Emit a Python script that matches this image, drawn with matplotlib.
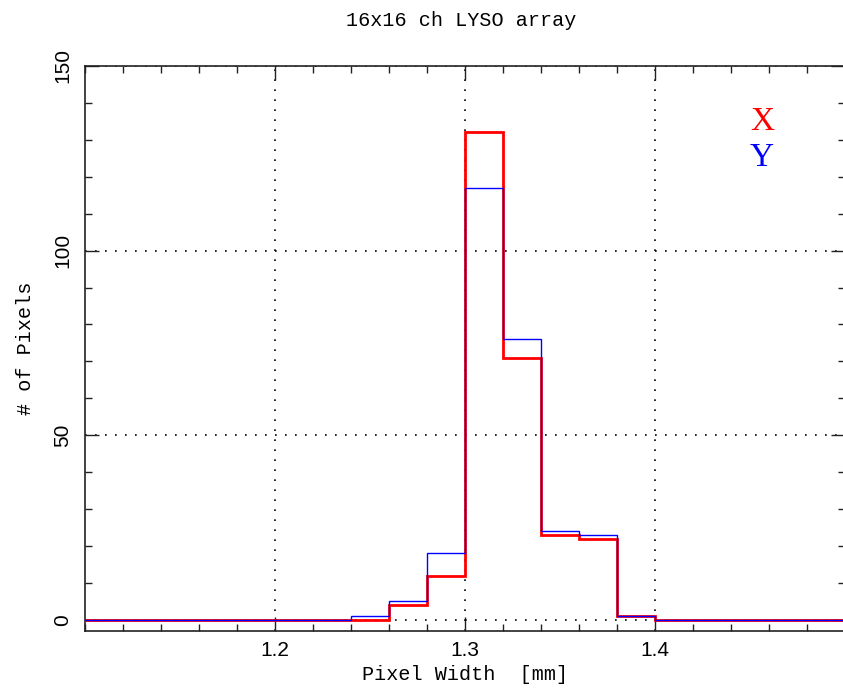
import numpy as np
import matplotlib
matplotlib.use("Agg")
import matplotlib.pyplot as plt
from matplotlib.ticker import MultipleLocator

# Histogram binning (pixel width in mm)
bin_edges = np.round(np.arange(1.10, 1.5001, 0.02), 2)

# Counts per bin for the X and Y pixel widths
counts_x = [0, 0, 0, 0, 0, 0, 0, 0, 4, 12, 132, 71, 23, 22, 1, 0, 0, 0, 0, 0]
counts_y = [0, 0, 0, 0, 0, 0, 0, 1, 5, 18, 117, 76, 24, 23, 1, 0, 0, 0, 0, 0]

x_ticks = [1.2, 1.3, 1.4]
y_ticks = [0, 50, 100, 150]

W, H = 843, 694
fig = plt.figure(figsize=(W / 100, H / 100), dpi=100)
left, right, top, bottom = 85, 845, 66, 631
ax = fig.add_axes([left / W, 1 - bottom / H, (right - left) / W, (bottom - top) / H])

ax.stairs(counts_x, bin_edges, baseline=None, color="#ff0000", lw=2.0, zorder=3)
ax.stairs(counts_y, bin_edges, baseline=None, color="#0000ff", lw=1.0, zorder=4)

ax.set_xlim(1.1, 1.5)
ax.set_ylim(-3, 150)

ax.xaxis.set_minor_locator(MultipleLocator(0.02))
ax.yaxis.set_minor_locator(MultipleLocator(10))
ax.set_xticks(x_ticks)
ax.set_yticks(y_ticks)
tick_font = dict(family="Liberation Sans", fontsize=15, color="black")
ax.set_xticklabels([f"{v:.1f}" for v in x_ticks], **tick_font)
ax.set_yticklabels([str(v) for v in y_ticks], rotation=90, va="center", **tick_font)

ax.tick_params(which="both", direction="in", top=True, right=True, colors="#222222",
               labelcolor="black")
ax.tick_params(which="major", length=10, width=1.0)
ax.tick_params(which="minor", length=5, width=1.0)
ax.tick_params(axis="x", which="major", pad=7)
ax.tick_params(axis="y", which="major", pad=9)

for s in ax.spines.values():
    s.set_linewidth(1.2)
    s.set_color("#222222")

ax.grid(True, which="major", color="black", lw=1.2, linestyle=(0, (1, 5)))
ax.set_axisbelow(True)

mono = "Liberation Mono"
fig.text(461 / W, 1 - 20 / H, "16x16 ch LYSO array", family=mono, fontsize=14.5,
         ha="center", va="center")
ax.set_xlabel("Pixel Width  [mm]", family=mono, fontsize=14.5, labelpad=4)
ax.set_ylabel("# of Pixels", family=mono, fontsize=14.5, labelpad=13)

fig.text(762 / W, 1 - 122 / H, "X", color="#ff0000", family="Liberation Serif",
         fontsize=24, ha="center", va="center")
fig.text(762 / W, 1 - 158 / H, "Y", color="#0000ff", family="Liberation Serif",
         fontsize=24, ha="center", va="center")

fig.savefig("out.png", dpi=100)
